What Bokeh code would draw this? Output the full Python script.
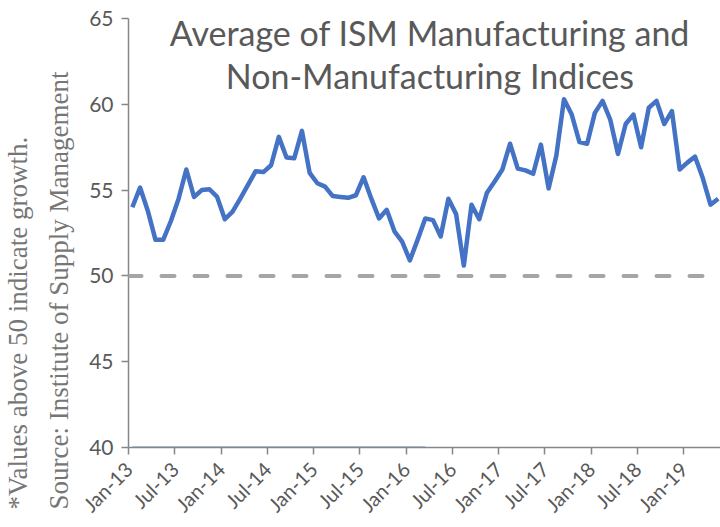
import math
from bokeh.plotting import figure
from bokeh.models import Range1d, FixedTicker, Span, Label, Title
from bokeh.embed import file_html
from bokeh.resources import INLINE

# ---- data ----
months = ["Jan-13","Feb-13","Mar-13","Apr-13","May-13","Jun-13","Jul-13","Aug-13","Sep-13","Oct-13","Nov-13","Dec-13",
          "Jan-14","Feb-14","Mar-14","Apr-14","May-14","Jun-14","Jul-14","Aug-14","Sep-14","Oct-14","Nov-14","Dec-14",
          "Jan-15","Feb-15","Mar-15","Apr-15","May-15","Jun-15","Jul-15","Aug-15","Sep-15","Oct-15","Nov-15","Dec-15",
          "Jan-16","Feb-16","Mar-16","Apr-16","May-16","Jun-16","Jul-16","Aug-16","Sep-16","Oct-16","Nov-16","Dec-16",
          "Jan-17","Feb-17","Mar-17","Apr-17","May-17","Jun-17","Jul-17","Aug-17","Sep-17","Oct-17","Nov-17","Dec-17",
          "Jan-18","Feb-18","Mar-18","Apr-18","May-18","Jun-18","Jul-18","Aug-18","Sep-18","Oct-18","Nov-18","Dec-18",
          "Jan-19","Feb-19","Mar-19","Apr-19","May-19"]
ism_average = [54.0, 55.15, 53.8, 52.1, 52.1, 53.2, 54.5, 56.2, 54.6, 55.0, 55.05, 54.6,
               53.3, 53.75, 54.5, 55.3, 56.1, 56.05, 56.45, 58.1, 56.9, 56.85, 58.45, 56.0,
               55.4, 55.2, 54.65, 54.6, 54.55, 54.7, 55.75, 54.5, 53.35, 53.85, 52.6, 52.0,
               50.9, 52.1, 53.35, 53.25, 52.3, 54.5, 53.6, 50.6, 54.15, 53.3, 54.85, 55.5,
               56.2, 57.7, 56.25, 56.15, 55.95, 57.65, 55.1, 57.0, 60.3, 59.4, 57.8, 57.7,
               59.5, 60.2, 59.1, 57.1, 58.85, 59.4, 57.5, 59.8, 60.2, 58.85, 59.6, 56.2,
               56.6, 56.95, 55.7, 54.15, 54.5]
baseline_series = [40.0] * 39   # stray series lying on the axis floor (Jan-13 .. Mar-16)
threshold = 50
tick_labels = ["Jan-13","Jul-13","Jan-14","Jul-14","Jan-15","Jul-15","Jan-16",
               "Jul-16","Jan-17","Jul-17","Jan-18","Jul-18","Jan-19"]
y_ticks = [40, 45, 50, 55, 60, 65]
title_lines = ["Average of ISM Manufacturing and", "Non-Manufacturing Indices"]
note_lines = ["*Values above 50 indicate growth.", "Source: Institute of Supply Management"]

# positions: categories centred between tick marks
xs = [i + 0.5 for i in range(len(ism_average))]
xs_base = [i + 0.5 for i in range(len(baseline_series))]
tick_pos = [months.index(t) for t in tick_labels]

p = figure(width=720, height=527, output_backend="svg", toolbar_location=None,
           x_range=Range1d(0, 76.8), y_range=Range1d(40, 65),
           min_border_left=128, min_border_right=0, min_border_top=18, min_border_bottom=79)
p.outline_line_color = None
p.xgrid.visible = False
p.ygrid.visible = False

axis_col = "#868686"
lab_col = "#595959"
for ax in (p.xaxis[0], p.yaxis[0]):
    ax.axis_line_color = axis_col
    ax.axis_line_width = 1.5
    ax.major_tick_line_color = axis_col
    ax.major_tick_line_width = 1.5
    ax.major_tick_in = 0
    ax.major_tick_out = 7
    ax.minor_tick_line_color = None
    ax.major_label_text_font = "Lato"
    ax.major_label_text_color = lab_col

p.yaxis.major_label_text_font_size = "21px"
p.xaxis.major_label_text_font_size = "20px"
p.yaxis.ticker = FixedTicker(ticks=y_ticks)
p.yaxis.major_label_standoff = 8
p.xaxis.ticker = FixedTicker(ticks=tick_pos)
p.xaxis.major_label_overrides = {pos: lab for pos, lab in zip(tick_pos, tick_labels)}
p.xaxis.major_label_orientation = math.pi / 4
p.xaxis.major_label_standoff = 11

p.add_layout(Span(location=threshold, dimension="width", line_color="#A5A5A5",
                  line_width=4, line_dash="13 20", line_cap="round"))
p.line(xs_base, baseline_series, line_color="#5B9BD5", line_width=2)
p.line(xs, ism_average, line_color="#4472C4", line_width=4.5, line_join="round")

for txt, yv in zip(title_lines, [64.2, 61.7]):
    p.add_layout(Label(x=39.1, y=yv, text=txt, text_align="center", text_baseline="middle",
                       text_font="Lato", text_font_size="34px", text_color=lab_col))

# rotated notes in the left margin (closest to the axis first)
for txt, so, va in ((note_lines[1], 22, "top"), (note_lines[0], 0, "bottom")):
    p.add_layout(Title(text=txt, align="left", offset=-62, standoff=so, vertical_align=va,
                       text_font="Liberation Serif", text_font_size="27px",
                       text_font_style="normal", text_color="#767676"), "left")

open("out.html", "w").write(file_html(p, INLINE))
